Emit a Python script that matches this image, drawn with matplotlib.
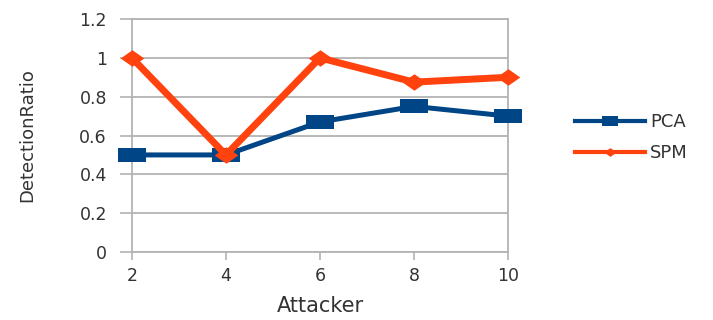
import matplotlib.pyplot as plt
from matplotlib.lines import Line2D

# data
attackers = ['2', '4', '6', '8', '10']
pca = [0.50, 0.50, 0.67, 0.75, 0.70]
spm = [1.00, 0.50, 1.00, 0.875, 0.90]

blue = '#004586'
orange = '#ff420e'
grid_c = '#b3b3b3'
text_c = '#333333'

# stretched marker shapes (reference is widened horizontally)
rect = [(-1, -0.55), (1, -0.55), (1, 0.55), (-1, 0.55), (-1, -0.55)]
diam = [(-1, 0), (0, 0.7), (1, 0), (0, -0.7), (-1, 0)]

plt.rcParams['font.family'] = ['DejaVu Sans']

fig = plt.figure(figsize=(7.13, 3.2), dpi=100)
ax = fig.add_axes([0.185, 0.2125, 0.5275, 0.728])

x = range(len(attackers))
ax.plot(x, pca, color=blue, linewidth=3.6, marker=rect, markersize=19.5,
        markeredgewidth=0, zorder=3, clip_on=False)
ax.plot(x, spm, color=orange, linewidth=5, marker=diam, markersize=17,
        markeredgewidth=0, zorder=4, clip_on=False)

ax.set_xlim(0, len(attackers) - 1)
ax.set_ylim(0, 1.2)
ax.set_xticks(list(x))
ax.set_xticklabels(attackers)
ax.set_yticks([0, 0.2, 0.4, 0.6, 0.8, 1.0, 1.2])
ax.set_yticklabels(['0', '0.2', '0.4', '0.6', '0.8', '1', '1.2'])

ax.grid(axis='y', color=grid_c, linewidth=1.3)
ax.set_axisbelow(True)
for side in ['left', 'right', 'top', 'bottom']:
    ax.spines[side].set_color(grid_c)
    ax.spines[side].set_linewidth(1.3)

ax.tick_params(axis='y', length=9, width=1.2, color=grid_c, labelsize=12.5,
               labelcolor=text_c, pad=9)
ax.tick_params(axis='x', length=6, width=1.2, color=grid_c, labelsize=12.5,
               labelcolor=text_c, pad=5)

ax.set_xlabel('Attacker', fontsize=15, color=text_c, labelpad=8)
ax.set_ylabel('DetectionRatio', fontsize=13, color=text_c, labelpad=31)

handles = [
    Line2D([], [], color=blue, linewidth=3, marker=rect, markersize=12,
           markeredgewidth=0),
    Line2D([], [], color=orange, linewidth=3, marker=diam, markersize=9,
           markeredgewidth=0),
]
fig.legend(handles, ['PCA', 'SPM'], loc='center left',
           bbox_to_anchor=(0.783, 0.57), frameon=False, fontsize=13,
           labelcolor=text_c, handlelength=3.9, handletextpad=0.3,
           labelspacing=0.75)

plt.savefig('out.png', dpi=100)
